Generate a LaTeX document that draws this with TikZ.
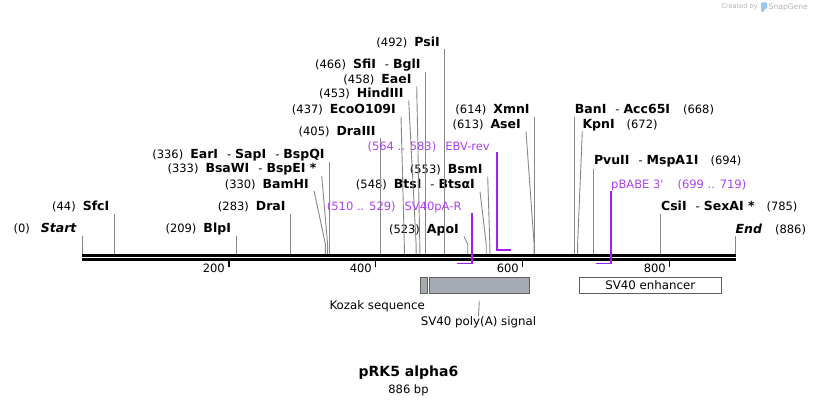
\documentclass[tikz,border=0pt]{standalone}
\usepackage{fontspec}
\setmainfont{DejaVu Sans}[Ligatures=TeXOff]
\usetikzlibrary{positioning}
\definecolor{primer}{RGB}{160,32,240}
\definecolor{primertext}{RGB}{172,64,240}
\definecolor{cutgray}{RGB}{135,135,135}
\definecolor{featfill}{RGB}{166,171,179}
\definecolor{featdraw}{RGB}{95,95,95}
\definecolor{snapblue}{RGB}{150,200,240}
\newcommand\enz[1]{\textbf{\fontsize{12.5}{12.5}\selectfont #1}}
\tikzset{
  cutlbl/.style={inner sep=0pt, font=\fontsize{11.5}{13}\selectfont},
  cutL/.style={cutlbl, anchor=east},
  cutR/.style={cutlbl, anchor=west},
  cutline/.style={draw=cutgray, line width=0.9pt},
  primerlbl/.style={cutlbl, text=primertext},
  primerline/.style={draw=primer, line width=1.6pt},
  featbox/.style={draw=featdraw, fill=featfill, line width=0.9pt, minimum height=16pt, inner sep=0pt},
}

\begin{document}
\begin{tikzpicture}[x=1pt, y=-1pt]
\useasboundingbox (0,0) rectangle (818,404);

% backbone and ruler
\draw[line width=2.7pt] (82,255.7) -- (736,255.7);
\draw[line width=2.3pt] (82,259.5) -- (736,259.5);
\draw[line width=1.4pt] (228.8,260.5) -- (228.8,267.3);
\draw[line width=1.4pt] (375.6,260.5) -- (375.6,267.3);
\draw[line width=1.4pt] (522.4,260.5) -- (522.4,267.3);
\draw[line width=1.4pt] (669.2,260.5) -- (669.2,267.3);
\node[cutL] (t200) at (225,268) {200};
\node[cutL] (t400) at (372,268) {400};
\node[cutL] (t600) at (519,268) {600};
\node[cutL] (t800) at (666,268) {800};

% cut sites on the backbone
\coordinate (s-start) at (82,254);
\coordinate (s-sfci) at (114.5,254);
\coordinate (s-blpi) at (236.1,254);
\coordinate (s-drai) at (290.7,254);
\coordinate (s-bamhi) at (325.4,254);
\coordinate (s-bsawi) at (327.6,254);
\coordinate (s-eari) at (329.8,254);
\coordinate (s-draiii) at (380.7,254);
\coordinate (s-ecoo) at (404.3,254);
\coordinate (s-hindiii) at (416.1,254);
\coordinate (s-eaei) at (419.8,254);
\coordinate (s-sfii) at (425.7,254);
\coordinate (s-psii) at (444.9,254);
\coordinate (s-apoi) at (467.7,254);
\coordinate (s-btsi) at (486.2,254);
\coordinate (s-bsmi) at (489.8,254);
\coordinate (s-asei) at (534.1,254);
\coordinate (s-xmni) at (534.8,254);
\coordinate (s-bani) at (574.7,254);
\coordinate (s-kpni) at (577.6,254);
\coordinate (s-pvuii) at (593.8,254);
\coordinate (s-csii) at (660.9,254);
\coordinate (s-end) at (735.4,254);

% enzyme labels, left side
\node[cutL] (start) at (77,229) {(0)\hspace{11pt}\enz{\textit{Start}}};
\node[cutL] (sfci) at (109.5,207) {(44)\hspace{7pt}\enz{SfcI}};
\node[cutL] (blpi) at (231.1,229) {(209)\hspace{7pt}\enz{BlpI}};
\node[cutL] (drai) at (285.7,207) {(283)\hspace{7pt}\enz{DraI}};
\node[cutL] (bamhi) at (309,184.3) {(330)\hspace{7pt}\enz{BamHI}};
\node[cutL] (bsawi) at (316.7,169.5) {(333)\hspace{7pt}\enz{BsaWI}\hspace{9pt}-\hspace{4pt}\enz{BspEI *}};
\node[cutL] (eari) at (324.8,155.5) {(336)\hspace{7pt}\enz{EarI}\hspace{9pt}-\hspace{4pt}\enz{SapI}\hspace{9pt}-\hspace{4pt}\enz{BspQI}};
\node[cutL] (draiii) at (375.7,131.5) {(405)\hspace{7pt}\enz{DraIII}};
\node[cutL] (ecoo) at (396,110) {(437)\hspace{7pt}\enz{EcoO109I}};
\node[cutL] (hindiii) at (403.7,94) {(453)\hspace{7pt}\enz{HindIII}};
\node[cutL] (eaei) at (411.7,80) {(458)\hspace{7pt}\enz{EaeI}};
\node[cutL] (sfii) at (420.7,65) {(466)\hspace{7pt}\enz{SfiI}\hspace{9pt}-\hspace{4pt}\enz{BglI}};
\node[cutL] (psii) at (439.9,42.3) {(492)\hspace{7pt}\enz{PsiI}};
\node[cutL] (apoi) at (459,230) {(523)\hspace{7pt}\enz{ApoI}};
\node[cutL] (btsi) at (475,185) {(548)\hspace{7pt}\enz{BtsI}\hspace{9pt}-\hspace{4pt}\enz{BtsαI}};
\node[cutL] (bsmi) at (482.7,170) {(553)\hspace{7pt}\enz{BsmI}};
\node[cutL] (asei) at (521,125) {(613)\hspace{7pt}\enz{AseI}};
\node[cutL] (xmni) at (529.8,110) {(614)\hspace{7pt}\enz{XmnI}};

% enzyme labels, right side
\node[cutR] (bani) at (574.7,110) {\enz{BanI}\hspace{9pt}-\hspace{4pt}\enz{Acc65I}\hspace{13pt}(668)};
\node[cutR] (kpni) at (582.3,125) {\enz{KpnI}\hspace{12pt}(672)};
\node[cutR] (pvuii) at (593.8,161.7) {\enz{PvuII}\hspace{9pt}-\hspace{4pt}\enz{MspA1I}\hspace{12pt}(694)};
\node[cutR] (csii) at (660.9,206.7) {\enz{CsiI}\hspace{9pt}-\hspace{4pt}\enz{SexAI *}\hspace{12pt}(785)};
\node[cutR] (end) at (735.4,230) {\enz{\textit{End}}\hspace{13pt}(886)};

% lines from labels to sites
\draw[cutline] ([shift={(5,6.5)}]start.east) -- (s-start);
\draw[cutline] ([shift={(5,6.5)}]sfci.east) -- (s-sfci);
\draw[cutline] ([shift={(5,6.5)}]blpi.east) -- (s-blpi);
\draw[cutline] ([shift={(5,6.5)}]drai.east) -- (s-drai);
\draw[cutline] ([shift={(5,6.5)}]bamhi.east) -- ([shift={(0,-10)}]s-bamhi) -- (s-bamhi);
\draw[cutline] ([shift={(5,6.5)}]bsawi.east) -- ([shift={(0,-10)}]s-bsawi) -- (s-bsawi);
\draw[cutline] ([shift={(5,6.5)}]eari.east) -- (s-eari);
\draw[cutline] ([shift={(5,6.5)}]draiii.east) -- (s-draiii);
\draw[cutline] ([shift={(5,6.5)}]ecoo.east) -- ([shift={(0,-10)}]s-ecoo) -- (s-ecoo);
\draw[cutline] ([shift={(5,6.5)}]hindiii.east) -- ([shift={(0,-10)}]s-hindiii) -- (s-hindiii);
\draw[cutline] ([shift={(5,6.5)}]eaei.east) -- ([shift={(0,-10)}]s-eaei) -- (s-eaei);
\draw[cutline] ([shift={(5,6.5)}]sfii.east) -- (s-sfii);
\draw[cutline] ([shift={(5,6.5)}]psii.east) -- (s-psii);
\draw[cutline] ([shift={(5,6.5)}]apoi.east) -- ([shift={(0,-10)}]s-apoi) -- (s-apoi);
\draw[cutline] ([shift={(5,6.5)}]btsi.east) -- ([shift={(0,-10)}]s-btsi) -- (s-btsi);
\draw[cutline] ([shift={(5,6.5)}]bsmi.east) -- ([shift={(0,-10)}]s-bsmi) -- (s-bsmi);
\draw[cutline] ([shift={(5,6.5)}]asei.east) -- ([shift={(0,-10)}]s-asei) -- (s-asei);
\draw[cutline] ([shift={(5,6.5)}]xmni.east) -- (s-xmni);
\draw[cutline] ([shift={(0,7)}]bani.west) -- (s-bani);
\draw[cutline] ([shift={(0,6.5)}]kpni.west) -- ([shift={(0,-10)}]s-kpni) -- (s-kpni);
\draw[cutline] ([shift={(0,7)}]pvuii.west) -- (s-pvuii);
\draw[cutline] ([shift={(0,7)}]csii.west) -- (s-csii);
\draw[cutline] ([shift={(0,6)}]end.west) -- (s-end);

% primers
\node[primerlbl, anchor=east] (ebvrev) at (490,146.7) {(564 .. 583)\hspace{9pt}EBV-rev};
\coordinate (ebvrev-a) at (496.7,250);
\coordinate (ebvrev-b) at (510.7,250);
\draw[primerline] (ebvrev-a |- ebvrev.south) -- (ebvrev-a) -- (ebvrev-b);
\node[primerlbl, anchor=east] (sv40par) at (461.7,207.3) {(510 .. 529)\hspace{9pt}SV40pA-R};
\coordinate (sv40par-a) at (471.7,263.3);
\coordinate (sv40par-b) at (457.3,263.3);
\draw[primerline] (sv40par-a |- sv40par.south) -- (sv40par-a) -- (sv40par-b);
\node[primerlbl, anchor=west] (pbabe) at (611,185) {pBABE 3'\hspace{14pt}(699 .. 719)};
\coordinate (pbabe-a) at (611,263.3);
\coordinate (pbabe-b) at (596,263.3);
\draw[primerline] (pbabe.south west) -- (pbabe-a) -- (pbabe-b);

% features
\node[featbox, minimum width=7.4pt] (kozak) at (424,285.3) {};
\node[featbox, minimum width=100pt] (polya) at (479.3,285.3) {};
\node[featbox, fill=white, minimum width=142pt, font=\fontsize{11.8}{13}\selectfont] (enhancer) at (650.3,285.3) {SV40 enhancer};
\node[cutlbl, font=\fontsize{11.8}{13}\selectfont] (kozaklbl) at (377.2,306.7) {Kozak sequence};
\node[cutlbl, font=\fontsize{11.8}{13}\selectfont] (polyalbl) at (478.5,322.3) {SV40 poly(A) signal};
\draw[cutline] ([yshift=-7pt]polya.south) -- (polyalbl.north);

% title
\node[font=\bfseries\fontsize{14}{16}\selectfont, inner sep=0pt] (title) at (408.5,373) {pRK5 alpha6};
\node[cutlbl, below=5pt of title] (length) {886 bp};

% credit
\node[inner sep=0pt, anchor=east, text=black!30, font=\fontsize{6.6}{7}\selectfont] (created) at (758,7) {Created by};
\fill[snapblue, rounded corners=1pt] (761,2.5) -- (767,2.5) -- (767,8.5) -- (764,9.5) -- (764,12) -- (761,12) -- cycle;
\node[inner sep=0pt, anchor=west, text=black!30, font=\fontsize{7.6}{8}\selectfont] (snapgene) at (768.5,7) {SnapGene};
\end{tikzpicture}
\end{document}
